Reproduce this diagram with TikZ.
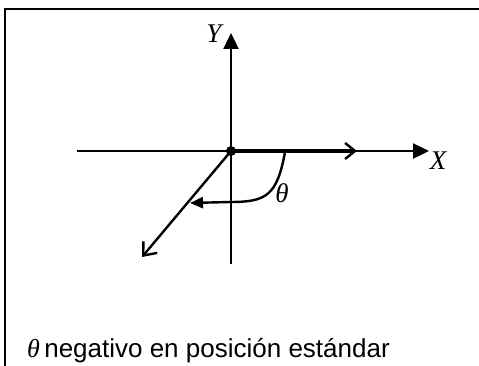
\documentclass[tikz,border=0pt]{standalone}
\usepackage{fontspec}
\setmainfont{Liberation Sans}
\newfontfamily\timesfont{Liberation Serif}
\usetikzlibrary{arrows.meta, positioning}
\tikzset{
  frameline/.style={line width=1.8pt, black},
  axis/.style={line width=2.4pt, -{Triangle[length=16pt, width=15pt]}},
  vector/.style={line width=2.4pt, -{Straight Barb[length=11pt, width=18pt, line width=2.4pt]}},
  thickvector/.style={line width=4.4pt, -{Straight Barb[length=10pt, width=16pt, line width=2.4pt]}},
  anglearrow/.style={line width=2.4pt, -{Triangle[length=13pt, width=11pt]}},
  axislabel/.style={font=\timesfont\itshape\fontsize{27}{30}\selectfont, inner sep=0pt},
  caption/.style={font=\fontsize{26}{30}\selectfont, inner sep=0pt, anchor=base west},
}
\begin{document}
\begin{tikzpicture}[x=1pt, y=-1pt]
\useasboundingbox (0,0) rectangle (479,366);
% frame, only top and left edges show
\draw[frameline] (5,366) -- (5,9) -- (479,9);
% axes
\coordinate (O) at (231,151);
\coordinate (xl) at (77,151);
\coordinate (xr) at (429,151);
\coordinate (yb) at (231,264);
\coordinate (yt) at (231,33);
\draw[axis] (xl) -- (xr);
\draw[axis] (yb) -- (yt);
\node[axislabel] (X) at (438,161) {X};
\node[axislabel] (Y) at (214,34) {Y};
% initial and terminal sides
\coordinate (init) at (357,151);
\coordinate (term) at (142,257);
\draw[thickvector] (O) -- (init);
\draw[vector] (O) -- (term);
\fill (O) circle (5pt);
% angle
\coordinate (arcstart) at (285,152);
\coordinate (arcend) at (190,203);
\draw[anglearrow] (arcstart) .. controls (277,196) and (266,202) .. (230,202) -- (arcend);
\node[axislabel] (theta) at (282,193) {θ};
% caption
\node[caption] (cap) at (27,357) {{\timesfont\itshape θ}\,negativo en posición estándar};
\end{tikzpicture}
\end{document}
